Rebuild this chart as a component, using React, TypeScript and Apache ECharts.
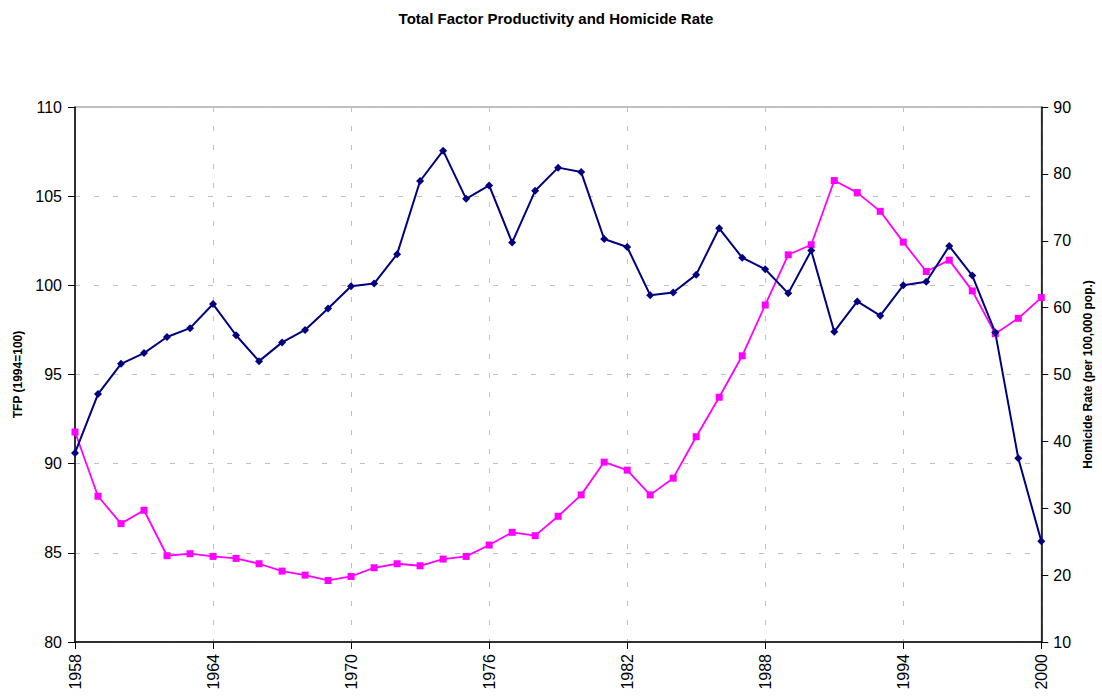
import React, { useEffect, useRef } from "react";
import * as echarts from "echarts";

const years: string[] = [
  "1958","1959","1960","1961","1962","1963","1964","1965","1966","1967","1968",
  "1969","1970","1971","1972","1973","1974","1975","1976","1977","1978","1979",
  "1980","1981","1982","1983","1984","1985","1986","1987","1988","1989","1990",
  "1991","1992","1993","1994","1995","1996","1997","1998","1999","2000",
];

const tfp: number[] = [
  90.6, 93.9, 95.6, 96.2, 97.1, 97.6, 98.95, 97.2, 95.75, 96.8, 97.5,
  98.7, 99.95, 100.1, 101.75, 105.85, 107.55, 104.85, 105.6, 102.4, 105.3, 106.6,
  106.35, 102.6, 102.15, 99.45, 99.6, 100.6, 103.2, 101.55, 100.9, 99.55, 101.95,
  97.4, 99.1, 98.3, 100.0, 100.2, 102.2, 100.55, 97.35, 90.3, 85.65,
];

const homicide: number[] = [
  41.4, 31.8, 27.7, 29.7, 22.9, 23.2, 22.8, 22.5, 21.7, 20.6, 20.0,
  19.2, 19.8, 21.1, 21.7, 21.4, 22.4, 22.8, 24.5, 26.4, 25.9, 28.8,
  32.0, 36.9, 35.7, 32.0, 34.5, 40.7, 46.6, 52.8, 60.4, 67.9, 69.4,
  79.0, 77.2, 74.4, 69.8, 65.4, 67.1, 62.5, 56.1, 58.4, 61.5,
];

const chartTitle = "Total Factor Productivity and Homicide Rate";
const leftName = "TFP (1994=100)";
const rightName = "Homicide Rate (per 100,000 pop.)";

const FONT = "'Liberation Sans', Arial, sans-serif";

export default function App() {
  const ref = useRef<HTMLDivElement>(null);
  useEffect(() => {
    document.body.style.margin = "0";
    if (!ref.current) return;
    const chart = echarts.init(ref.current, undefined, { renderer: "svg" });
    chart.setOption({
      animation: false,
      backgroundColor: "#ffffff",
      textStyle: { fontFamily: FONT },
      title: {
        text: chartTitle,
        left: 556,
        top: 11,
        padding: 0,
        textAlign: "center",
        textStyle: { fontFamily: FONT, fontSize: 15, fontWeight: "bold", color: "#000" },
      },
      grid: {
        left: 75,
        right: 56,
        top: 107,
        bottom: 54,
        show: true,
        borderColor: "#808080",
        borderWidth: 1,
        backgroundColor: "transparent",
      },
      xAxis: {
        type: "category",
        data: years,
        boundaryGap: false,
        axisLine: { lineStyle: { color: "#000", width: 1.5 } },
        axisTick: { show: true, interval: 5, length: 7, lineStyle: { color: "#000" } },
        axisLabel: {
          interval: 5,
          rotate: 90,
          margin: 12,
          fontSize: 16,
          fontFamily: FONT,
          color: "#000",
        },
        splitLine: {
          show: true,
          interval: 5,
          lineStyle: { color: "#c0c0c0", type: [5, 14], width: 1 },
        },
      },
      yAxis: [
        {
          type: "value",
          min: 80,
          max: 110,
          interval: 5,
          position: "left",
          name: leftName,
          nameLocation: "middle",
          nameRotate: 90,
          nameGap: 51,
          nameTextStyle: { fontFamily: FONT, fontSize: 12, fontWeight: "bold", color: "#000" },
          axisLine: { show: true, lineStyle: { color: "#000", width: 1.5 } },
          axisTick: { show: true, length: 7, lineStyle: { color: "#000" } },
          axisLabel: { margin: 13, fontSize: 16, fontFamily: FONT, color: "#000" },
          splitLine: {
            show: true,
            lineStyle: { color: "#c0c0c0", type: [5, 14], width: 1 },
          },
        },
        {
          type: "value",
          min: 10,
          max: 90,
          interval: 10,
          position: "right",
          name: rightName,
          nameLocation: "middle",
          nameRotate: 90,
          nameGap: 40,
          nameTextStyle: { fontFamily: FONT, fontSize: 12, fontWeight: "bold", color: "#000" },
          axisLine: { show: true, lineStyle: { color: "#000", width: 1.5 } },
          axisTick: { show: true, length: 7, lineStyle: { color: "#000" } },
          axisLabel: { margin: 12, fontSize: 16, fontFamily: FONT, color: "#000" },
          splitLine: { show: false },
        },
      ],
      series: [
        {
          name: "TFP",
          type: "line",
          yAxisIndex: 0,
          data: tfp,
          symbol: "diamond",
          symbolSize: 8,
          lineStyle: { color: "#000080", width: 2 },
          itemStyle: { color: "#000080" },
          z: 3,
        },
        {
          name: "Homicide",
          type: "line",
          yAxisIndex: 1,
          data: homicide,
          symbol: "rect",
          symbolSize: 7,
          lineStyle: { color: "#ff00ff", width: 1.8 },
          itemStyle: { color: "#ff00ff" },
          z: 2,
        },
      ],
    });
    return () => chart.dispose();
  }, []);
  return <div ref={ref} style={{ width: 1102, height: 696 }} />;
}
